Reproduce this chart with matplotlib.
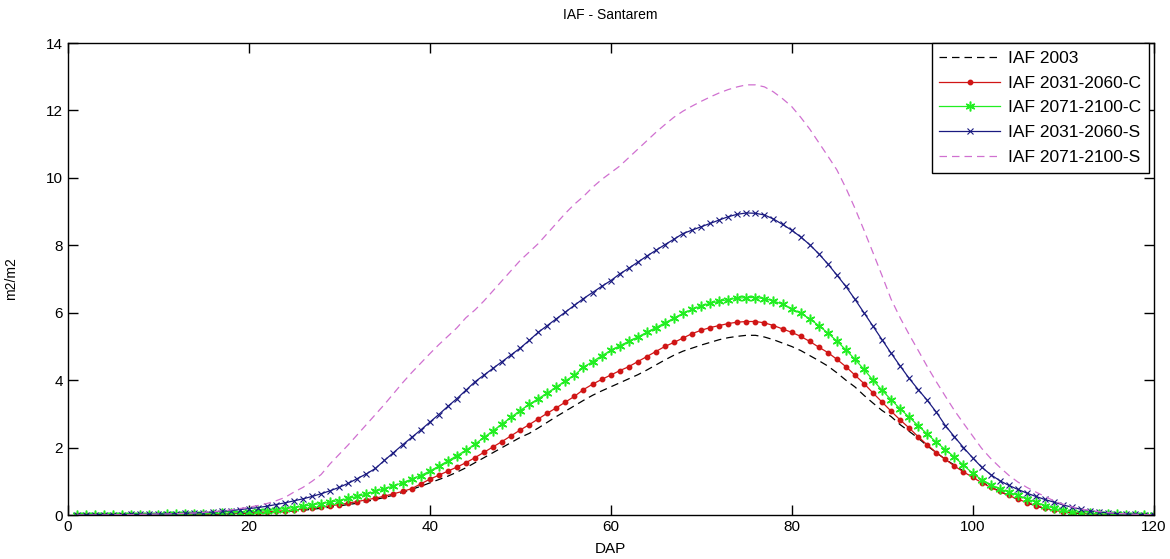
import numpy as np
import matplotlib
matplotlib.use('Agg')
import matplotlib.pyplot as plt

plt.rcParams['font.family'] = ['Liberation Sans', 'DejaVu Sans']

# DAP 1..120
dap = list(range(1, 121))

iaf_2003 = [
    0.00, 0.00, 0.00, 0.00, 0.00, 0.00, 0.00, 0.01, 0.01, 0.01,
    0.01, 0.01, 0.01, 0.02, 0.02, 0.02, 0.03, 0.03, 0.04, 0.05,
    0.06, 0.07, 0.09, 0.10, 0.12, 0.14, 0.17, 0.20, 0.23, 0.27,
    0.31, 0.35, 0.40, 0.46, 0.52, 0.59, 0.67, 0.76, 0.85, 0.95,
    1.05, 1.15, 1.27, 1.40, 1.55, 1.70, 1.85, 2.00, 2.15, 2.30,
    2.42, 2.58, 2.75, 2.92, 3.08, 3.24, 3.40, 3.55, 3.68, 3.80,
    3.92, 4.04, 4.16, 4.30, 4.45, 4.60, 4.74, 4.86, 4.95, 5.04,
    5.12, 5.20, 5.26, 5.30, 5.33, 5.33, 5.28, 5.20, 5.10, 5.00,
    4.88, 4.73, 4.58, 4.42, 4.22, 4.00, 3.80, 3.55, 3.32, 3.10,
    2.92, 2.68, 2.48, 2.28, 2.05, 1.85, 1.65, 1.48, 1.30, 1.14,
    0.98, 0.84, 0.70, 0.58, 0.46, 0.36, 0.27, 0.19, 0.13, 0.09,
    0.06, 0.04, 0.03, 0.02, 0.01, 0.01, 0.00, 0.00, 0.00, 0.00,
]

iaf_2031_c = [
    0.00, 0.00, 0.00, 0.00, 0.00, 0.00, 0.00, 0.01, 0.01, 0.01,
    0.01, 0.01, 0.02, 0.02, 0.02, 0.03, 0.03, 0.04, 0.05, 0.06,
    0.07, 0.09, 0.11, 0.13, 0.15, 0.18, 0.21, 0.24, 0.27, 0.31,
    0.35, 0.40, 0.45, 0.50, 0.56, 0.63, 0.70, 0.78, 0.92, 1.06,
    1.18, 1.30, 1.42, 1.55, 1.70, 1.86, 2.02, 2.18, 2.35, 2.52,
    2.68, 2.85, 3.02, 3.18, 3.35, 3.52, 3.72, 3.88, 4.02, 4.15,
    4.28, 4.40, 4.55, 4.70, 4.85, 5.00, 5.12, 5.25, 5.38, 5.48,
    5.56, 5.62, 5.68, 5.72, 5.74, 5.74, 5.70, 5.62, 5.52, 5.42,
    5.30, 5.15, 4.98, 4.82, 4.62, 4.40, 4.15, 3.90, 3.62, 3.35,
    3.08, 2.82, 2.58, 2.32, 2.08, 1.85, 1.65, 1.45, 1.28, 1.12,
    0.96, 0.82, 0.70, 0.58, 0.47, 0.37, 0.28, 0.20, 0.14, 0.10,
    0.07, 0.05, 0.03, 0.02, 0.01, 0.01, 0.00, 0.00, 0.00, 0.00,
]

iaf_2071_c = [
    0.00, 0.00, 0.00, 0.00, 0.00, 0.01, 0.01, 0.01, 0.01, 0.01,
    0.02, 0.02, 0.02, 0.03, 0.03, 0.04, 0.05, 0.06, 0.07, 0.09,
    0.11, 0.13, 0.16, 0.19, 0.22, 0.26, 0.30, 0.34, 0.38, 0.43,
    0.49, 0.55, 0.62, 0.70, 0.78, 0.86, 0.96, 1.06, 1.17, 1.30,
    1.45, 1.60, 1.76, 1.92, 2.10, 2.30, 2.50, 2.70, 2.90, 3.10,
    3.28, 3.45, 3.62, 3.80, 3.98, 4.15, 4.38, 4.55, 4.72, 4.88,
    5.02, 5.15, 5.28, 5.42, 5.56, 5.70, 5.84, 5.98, 6.10, 6.20,
    6.28, 6.34, 6.39, 6.43, 6.45, 6.45, 6.42, 6.35, 6.25, 6.12,
    5.98, 5.82, 5.62, 5.40, 5.16, 4.90, 4.62, 4.32, 4.00, 3.70,
    3.42, 3.15, 2.90, 2.65, 2.40, 2.16, 1.94, 1.72, 1.48, 1.24,
    1.05, 0.90, 0.78, 0.68, 0.58, 0.48, 0.38, 0.28, 0.20, 0.14,
    0.10, 0.07, 0.05, 0.03, 0.02, 0.02, 0.01, 0.01, 0.00, 0.00,
]

iaf_2031_s = [
    0.00, 0.00, 0.01, 0.01, 0.01, 0.01, 0.02, 0.02, 0.02, 0.03,
    0.03, 0.04, 0.05, 0.06, 0.07, 0.09, 0.11, 0.13, 0.16, 0.19,
    0.22, 0.26, 0.31, 0.36, 0.42, 0.48, 0.55, 0.63, 0.72, 0.82,
    0.94, 1.08, 1.22, 1.38, 1.62, 1.85, 2.08, 2.30, 2.52, 2.75,
    2.98, 3.22, 3.45, 3.70, 3.95, 4.15, 4.35, 4.55, 4.75, 4.95,
    5.18, 5.42, 5.62, 5.82, 6.02, 6.22, 6.42, 6.60, 6.78, 6.95,
    7.15, 7.32, 7.50, 7.68, 7.85, 8.02, 8.18, 8.35, 8.45, 8.55,
    8.65, 8.75, 8.85, 8.92, 8.96, 8.95, 8.90, 8.78, 8.62, 8.45,
    8.25, 8.02, 7.75, 7.45, 7.12, 6.78, 6.40, 6.00, 5.60, 5.20,
    4.80, 4.42, 4.05, 3.72, 3.40, 3.05, 2.65, 2.32, 2.00, 1.70,
    1.42, 1.20, 1.02, 0.88, 0.76, 0.65, 0.55, 0.46, 0.38, 0.30,
    0.23, 0.17, 0.12, 0.09, 0.06, 0.04, 0.03, 0.02, 0.01, 0.01,
]

iaf_2071_s = [
    0.00, 0.00, 0.00, 0.00, 0.01, 0.01, 0.01, 0.02, 0.02, 0.03,
    0.03, 0.04, 0.05, 0.06, 0.08, 0.10, 0.12, 0.15, 0.19, 0.23,
    0.28, 0.34, 0.42, 0.52, 0.68, 0.82, 1.00, 1.20, 1.52, 1.80,
    2.08, 2.38, 2.68, 2.98, 3.28, 3.60, 3.92, 4.22, 4.50, 4.78,
    5.05, 5.30, 5.55, 5.85, 6.08, 6.35, 6.65, 6.95, 7.25, 7.55,
    7.80, 8.05, 8.35, 8.65, 8.95, 9.22, 9.45, 9.72, 9.95, 10.15,
    10.35, 10.60, 10.85, 11.10, 11.35, 11.58, 11.80, 11.98, 12.13, 12.27,
    12.40, 12.52, 12.62, 12.70, 12.76, 12.76, 12.70, 12.55, 12.35, 12.12,
    11.80, 11.45, 11.05, 10.65, 10.24, 9.70, 9.10, 8.45, 7.78, 7.10,
    6.40, 5.85, 5.35, 4.88, 4.40, 3.95, 3.52, 3.10, 2.72, 2.35,
    1.98, 1.68, 1.42, 1.18, 0.98, 0.82, 0.68, 0.55, 0.42, 0.32,
    0.24, 0.18, 0.13, 0.10, 0.07, 0.05, 0.03, 0.02, 0.01, 0.01,
]

fig = plt.figure(figsize=(11.7, 5.59), dpi=100)
ax = fig.add_axes([0.0579, 0.0787, 0.928, 0.8443])

asterisk = (6, 2, 0)

ax.plot(dap, iaf_2003, '--', color='black', lw=0.9, dashes=(6, 4),
        label='IAF 2003')
ax.plot(dap, iaf_2031_c, '-', color='#d01515', lw=0.9, marker='o',
        markersize=3.2, label='IAF 2031-2060-C')
ax.plot(dap, iaf_2071_c, '-', color='#22ee22', lw=0.9, marker=asterisk,
        markersize=7, markeredgewidth=1.1, label='IAF 2071-2100-C')
ax.plot(dap, iaf_2031_s, '-', color='#1a1a80', lw=0.9, marker='x',
        markersize=5, markeredgewidth=0.8, label='IAF 2031-2060-S')
ax.plot(dap, iaf_2071_s, '--', color='#d070d0', lw=0.9, dashes=(6, 4),
        label='IAF 2071-2100-S')

ax.set_xlim(0, 120)
ax.set_ylim(0, 14)
ax.set_xticks(range(0, 121, 20))
ax.set_yticks(range(0, 15, 2))
ax.tick_params(direction='in', length=7, top=True, right=True,
               labelsize=11, width=1)
for s in ax.spines.values():
    s.set_linewidth(1)

ax.set_title('IAF - Santarem', fontsize=10, pad=17)
ax.set_xlabel('DAP', fontsize=11, labelpad=6)
ax.set_ylabel('m2/m2', fontsize=10, labelpad=20)

leg = ax.legend(loc='upper right', bbox_to_anchor=(0.9957, 1.0),
                borderaxespad=0, fontsize=12.5, handlelength=3.5,
                handletextpad=0.45, labelspacing=0.55, borderpad=0.45,
                numpoints=1, fancybox=False, framealpha=1)
leg.get_frame().set_edgecolor('black')
leg.get_frame().set_linewidth(1)

fig.savefig('out.png', dpi=100)
